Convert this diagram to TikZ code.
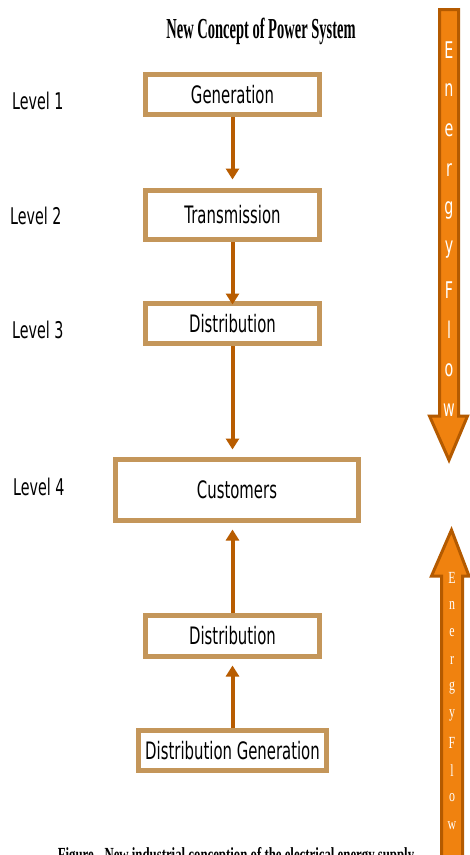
\documentclass[tikz,border=0pt]{standalone}
\usepackage{fontspec}
\usetikzlibrary{arrows.meta}
\newfontfamily\vfont[FakeStretch=0.62]{DejaVu Sans}
\newfontfamily\tfont[FakeStretch=0.50]{Liberation Serif}
\newfontfamily\capfont[FakeStretch=0.64]{Liberation Serif}
\newfontfamily\sfont[FakeStretch=0.7]{Liberation Serif}
\definecolor{boxc}{RGB}{196,150,90}
\definecolor{arrc}{RGB}{184,92,0}
\definecolor{eflow}{RGB}{240,130,15}
\definecolor{eedge}{RGB}{180,90,0}
\tikzset{
  stagebox/.style={draw=boxc, line width=5pt, fill=white, inner sep=0pt,
    minimum width=174pt, minimum height=40pt,
    font=\vfont\fontsize{24}{24}\selectfont},
  flow/.style={draw=arrc, line width=4pt, -{Triangle[width=13pt,length=11pt]}},
  levellab/.style={anchor=west, inner sep=0pt, font=\vfont\fontsize{23}{23}\selectfont},
  bigarrow/.style={fill=eflow, draw=eedge, line width=3pt, line join=miter},
  dletter/.style={text=white, inner sep=0pt, font=\vfont\fontsize{23}{23}\selectfont},
  uletter/.style={text=white, inner sep=0pt, font=\sfont\fontsize{17}{17}\selectfont},
}
\begin{document}
\begin{tikzpicture}[x=1pt,y=-1pt]
\useasboundingbox[fill=white] (0,0) rectangle (470,855);

\node[font=\tfont\bfseries\fontsize{29}{29}\selectfont] (title) at (261,31) {New Concept of Power System};

% stage boxes
\node[stagebox] (gen) at (232.5,94.5) {Generation};
\node[stagebox, minimum height=49pt] (trans) at (232.5,215) {Transmission};
\node[stagebox] (dist1) at (232.5,323.5) {Distribution};
\node[stagebox, minimum width=243pt, minimum height=61pt] (cust) at (237,490) {Customers};
\node[stagebox, minimum height=41pt] (dist2) at (232.5,636) {Distribution};
\node[stagebox, minimum width=188pt] (dg) at (232.5,750.5) {Distribution Generation};

% level labels
\node[levellab] (l1) at (12,101) {Level 1};
\node[levellab] (l2) at (10,216) {Level 2};
\node[levellab] (l3) at (12,330) {Level 3};
\node[levellab] (l4) at (13,487) {Level 4};

% connectors
\draw[flow, shorten >=8.5pt] (gen.south) -- (trans.north);
\draw[flow, shorten >=-3.5pt] (trans.south) -- (dist1.north);
\draw[flow, shorten >=7.5pt] (dist1.south) -- (cust.north -| dist1.south);
\draw[flow, shorten >=6.5pt] (dist2.north) -- (cust.south -| dist2.north);
\draw[flow, shorten >=6.5pt] (dg.north) -- (dist2.south);

% downward energy flow arrow
\draw[bigarrow] (439.5,9.5) -- (458.5,9.5) -- (458.5,416) -- (467.5,416)
  -- (449,460) -- (429.5,416) -- (439.5,416) -- cycle;
\foreach \c [count=\i from 0] in {E,n,e,r,g,y,F,l,o,w}
  \node[dletter] (d\i) at (449,{50+40*\i}) {\c};

% upward energy flow arrow
\draw[bigarrow] (441.5,870) -- (441.5,576) -- (431.5,576) -- (451.5,530)
  -- (469,576) -- (462.5,576) -- (462.5,870) -- cycle;
\foreach \c [count=\i from 0] in {E,n,e,r,g,y,F,l,o,w}
  \node[uletter] (u\i) at (452,{578+27.5*\i}) {\c};

% caption (cut by the lower edge, as in the reference)
\node[anchor=north, inner sep=0pt, font=\capfont\bfseries\fontsize{20}{20}\selectfont] (cap) at (236,847)
  {Figure - New industrial conception of the electrical energy supply};
\end{tikzpicture}
\end{document}
